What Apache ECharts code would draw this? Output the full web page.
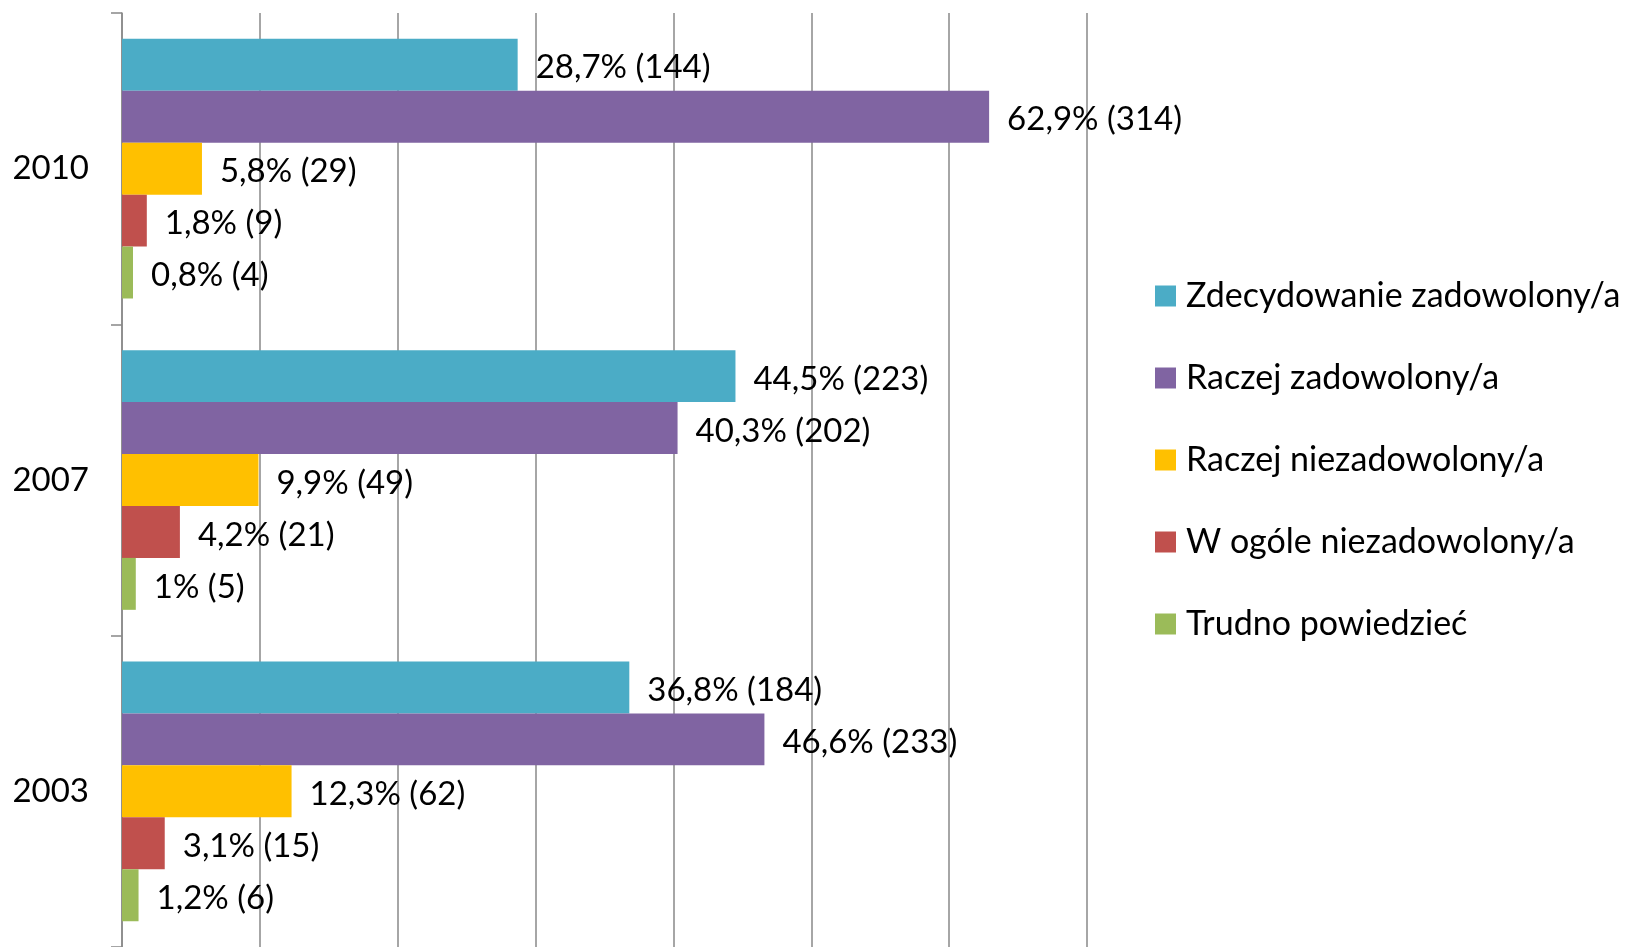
<!DOCTYPE html>
<html>
<head>
<meta charset="utf-8">
<script src="https://cdn.jsdelivr.net/npm/echarts@6/dist/echarts.min.js"></script>
<style>
html,body{margin:0;padding:0;background:#fff;}
#chart{width:1625px;height:947px;}
</style>
</head>
<body>
<div id="chart"></div>
<script>
const years = ['2010', '2007', '2003'];
const seriesNames = ['Zdecydowanie zadowolony/a', 'Raczej zadowolony/a', 'Raczej niezadowolony/a', 'W ogóle niezadowolony/a', 'Trudno powiedzieć'];
const colors = ['#4BACC6', '#8064A2', '#FFC000', '#C0504D', '#9BBB59'];
// percent values per series, ordered as years
const pctZdecydowanie = [28.7, 44.5, 36.8];
const pctRaczejZad = [62.9, 40.3, 46.6];
const pctRaczejNiezad = [5.8, 9.9, 12.3];
const pctWOgole = [1.8, 4.2, 3.1];
const pctTrudno = [0.8, 1, 1.2];
// counts per series, ordered as years
const cntZdecydowanie = [144, 223, 184];
const cntRaczejZad = [314, 202, 233];
const cntRaczejNiezad = [29, 49, 62];
const cntWOgole = [9, 21, 15];
const cntTrudno = [4, 5, 6];
const xTicks = [0, 10, 20, 30, 40, 50, 60, 70];

const pcts = [pctZdecydowanie, pctRaczejZad, pctRaczejNiezad, pctWOgole, pctTrudno];
const cnts = [cntZdecydowanie, cntRaczejZad, cntRaczejNiezad, cntWOgole, cntTrudno];

const FONT = 'Lato';
const chart = echarts.init(document.getElementById('chart'));
chart.setOption({
  animation: false,
  backgroundColor: '#fff',
  grid: { left: 122, top: 13, width: 965, height: 939 },
  legend: {
    orient: 'vertical',
    left: 1150,
    top: 271,
    itemWidth: 21,
    itemHeight: 21,
    itemGap: 42,
    icon: 'rect',
    data: seriesNames,
    textStyle: { fontFamily: FONT, fontSize: 34, color: '#000', lineHeight: 40, padding: [0, 0, 0, 5] }
  },
  xAxis: {
    type: 'value',
    min: xTicks[0],
    max: xTicks[xTicks.length - 1],
    interval: 10,
    axisLabel: { show: false },
    axisLine: { show: false },
    axisTick: { show: false },
    splitLine: { show: true, lineStyle: { color: '#888', width: 1.5 } }
  },
  yAxis: {
    type: 'category',
    inverse: true,
    data: years,
    axisLine: { show: true, lineStyle: { color: '#888', width: 1.5 } },
    axisTick: { show: true, length: 11, lineStyle: { color: '#888', width: 1.5 } },
    axisLabel: { fontFamily: FONT, fontSize: 33, color: '#000', margin: 33, padding: [4, 0, 0, 0] }
  },
  series: seriesNames.map((name, i) => ({
    name: name,
    type: 'bar',
    data: pcts[i],
    barGap: '0%',
    barCategoryGap: '16.6%',
    itemStyle: { color: colors[i] },
    label: {
      show: true,
      position: 'right',
      distance: 18,
      offset: [0, 3],
      fontFamily: FONT,
      fontSize: 33,
      color: '#000',
      formatter: p => String(p.value).replace('.', ',') + '% (' + cnts[i][p.dataIndex] + ')'
    }
  }))
});
</script>
</body>
</html>
